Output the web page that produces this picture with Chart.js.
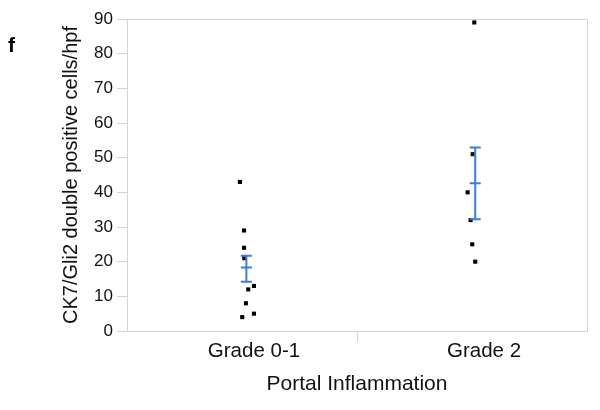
<!DOCTYPE html>
<html>
<head>
<meta charset="utf-8">
<script src="https://cdn.jsdelivr.net/npm/chart.js@4"></script>
<style>
  html, body { margin: 0; padding: 0; background: #fff; }
  #wrap { position: relative; width: 600px; height: 410px; }
  #panel { position: absolute; left: 8px; top: 33px; font: bold 21px "Liberation Sans", Arial, sans-serif; color: #000; }
</style>
</head>
<body>
<div id="wrap">
  <canvas id="c" width="600" height="410"></canvas>
  <div id="panel">f</div>
</div>
<script>
// Categories and tick labels
const categories = ["Grade 0-1", "Grade 2"];
const yTicks = [0, 10, 20, 30, 40, 50, 60, 70, 80, 90];

// Individual observations (x = jittered position within category, y = value)
const g1X = [0.491, 0.509, 0.509, 0.510, 0.552, 0.527, 0.517, 0.552, 0.501];
const g1Y = [43, 29, 24, 21, 13, 12, 8, 5, 4];
const g2X = [1.510, 1.503, 1.481, 1.494, 1.501, 1.514];
const g2Y = [89, 51, 40, 32, 25, 20];

// Mean +/- SEM
const errX = [0.519, 1.514];
const errMean = [18.3, 42.6];
const errLow = [14.2, 32.2];
const errHigh = [21.7, 52.9];

const axisGray = "#d4d4d4";
const errColor = "#3c7ddc";
const fontFam = '"Liberation Sans", Arial, sans-serif';

const toPts = (xs, ys) => xs.map((x, i) => ({ x: x, y: ys[i] }));

const framePlugin = {
  id: "frame",
  beforeDatasetsDraw(chart) {
    const { ctx, chartArea: a } = chart;
    ctx.save();
    ctx.strokeStyle = axisGray;
    ctx.lineWidth = 1;
    ctx.beginPath();
    ctx.moveTo(a.left, a.top + 0.5);
    ctx.lineTo(a.right + 0.5, a.top + 0.5);
    ctx.lineTo(a.right + 0.5, a.bottom);
    ctx.stroke();
    ctx.restore();
  }
};

const errPlugin = {
  id: "errbars",
  afterDatasetsDraw(chart) {
    const { ctx } = chart;
    const xs = chart.scales.x, ys = chart.scales.y;
    ctx.save();
    ctx.strokeStyle = errColor;
    ctx.lineWidth = 2;
    const hw = 5.5;
    for (let i = 0; i < errX.length; i++) {
      const px = xs.getPixelForValue(errX[i]);
      const yl = ys.getPixelForValue(errLow[i]);
      const yh = ys.getPixelForValue(errHigh[i]);
      const ym = ys.getPixelForValue(errMean[i]);
      ctx.beginPath();
      ctx.moveTo(px, yl); ctx.lineTo(px, yh);
      [yl, yh, ym].forEach(y => { ctx.moveTo(px - hw, y); ctx.lineTo(px + hw, y); });
      ctx.stroke();
    }
    ctx.restore();
  }
};

new Chart(document.getElementById("c"), {
  type: "scatter",
  data: {
    datasets: [
      { data: toPts(g1X, g1Y), pointStyle: "rect", pointRadius: 2.9, borderWidth: 0, backgroundColor: "#000" },
      { data: toPts(g2X, g2Y), pointStyle: "rect", pointRadius: 2.9, borderWidth: 0, backgroundColor: "#000" }
    ]
  },
  options: {
    responsive: false,
    animation: false,
    events: [],
    layout: { padding: { left: 59, right: 13, top: 19, bottom: 0 } },
    plugins: { legend: { display: false }, tooltip: { enabled: false } },
    scales: {
      x: {
        type: "linear",
        min: 0, max: 2,
        afterBuildTicks(scale) {
          scale.ticks = [{ value: 0.5 }, { value: 1 }, { value: 1.5 }];
        },
        afterFit(scale) { scale.height = 79; },
        grid: {
          drawOnChartArea: false,
          drawTicks: true,
          tickLength: 11,
          color: c => (c.tick && c.tick.value === 1) ? axisGray : "rgba(0,0,0,0)"
        },
        border: { display: true, color: axisGray },
        ticks: {
          autoSkip: false,
          maxRotation: 0,
          labelOffset: 12,
          padding: -3,
          color: "#111",
          font: { family: fontFam, size: 20.5 },
          callback: v => v === 0.5 ? categories[0] : (v === 1.5 ? categories[1] : "")
        },
        title: {
          display: true,
          text: "Portal Inflammation",
          color: "#111",
          font: { family: fontFam, size: 21 },
          padding: { top: 2, bottom: 13 }
        }
      },
      y: {
        min: 0, max: 90,
        afterBuildTicks(scale) { scale.ticks = yTicks.map(v => ({ value: v })); },
        afterFit(scale) { scale.width = 68; },
        grid: { drawOnChartArea: false, drawTicks: true, tickLength: 10, color: axisGray },
        border: { display: true, color: axisGray },
        ticks: {
          padding: 4,
          color: "#111",
          font: { family: fontFam, size: 17 }
        },
        title: {
          display: true,
          text: "CK7/Gli2 double positive cells/hpf",
          color: "#111",
          font: { family: fontFam, size: 20 },
          padding: { top: 0, bottom: 0 }
        }
      }
    }
  },
  plugins: [framePlugin, errPlugin]
});
</script>
</body>
</html>
